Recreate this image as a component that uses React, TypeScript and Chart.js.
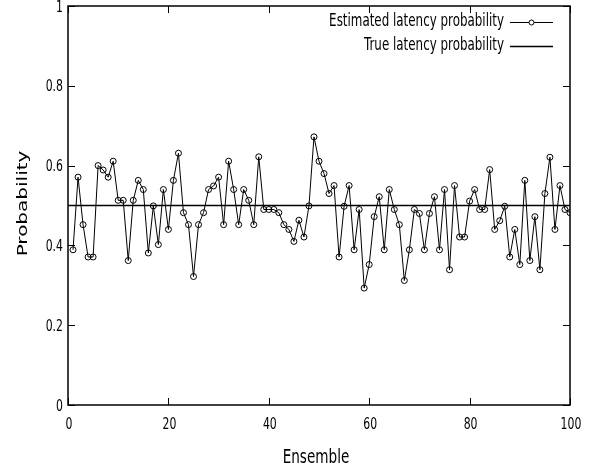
import React, { useEffect, useRef } from "react";
import { Chart, registerables } from "chart.js";

Chart.register(...registerables);

const ensembleStart = 1;
const estimatedProbability = [
  0.389, 0.571, 0.452, 0.371, 0.371, 0.6, 0.589, 0.571, 0.611, 0.513,
  0.513, 0.362, 0.513, 0.563, 0.54, 0.381, 0.499, 0.402, 0.54, 0.44,
  0.563, 0.631, 0.482, 0.452, 0.322, 0.452, 0.482, 0.54, 0.549, 0.571,
  0.452, 0.611, 0.54, 0.452, 0.54, 0.513, 0.452, 0.622, 0.49, 0.49,
  0.49, 0.482, 0.452, 0.44, 0.41, 0.463, 0.421, 0.499, 0.672, 0.611,
  0.58, 0.53, 0.55, 0.371, 0.498, 0.55, 0.389, 0.49, 0.293, 0.352,
  0.472, 0.522, 0.389, 0.54, 0.49, 0.452, 0.312, 0.389, 0.49, 0.48,
  0.389, 0.48, 0.522, 0.389, 0.54, 0.339, 0.55, 0.421, 0.421, 0.511,
  0.54, 0.49, 0.49, 0.59, 0.44, 0.462, 0.498, 0.371, 0.44, 0.352,
  0.563, 0.362, 0.472, 0.339, 0.53, 0.621, 0.44, 0.55, 0.49, 0.482,
];
const trueProbability = 0.5;
const trueRange = [0, 100];
const xTicks = [0, 20, 40, 60, 80, 100];
const yTicks = [0, 0.2, 0.4, 0.6, 0.8, 1];
const seriesLabels = ["Estimated latency probability", "True latency probability"];
const xTitle = "Ensemble";
const yTitle = "Probability";

const FONT = "'DejaVu Sans', 'Liberation Sans', sans-serif";
const SX = 0.68; // horizontal squeeze of the reference's lettering

function drawText(
  ctx: CanvasRenderingContext2D,
  text: string,
  x: number,
  y: number,
  size: number,
  align: CanvasTextAlign,
  baseline: CanvasTextBaseline,
  rotated = false
) {
  ctx.save();
  ctx.translate(x, y);
  ctx.scale(SX, 1);
  if (rotated) ctx.rotate(-Math.PI / 2);
  ctx.font = `${size}px ${FONT}`;
  ctx.fillStyle = "#000";
  ctx.textAlign = align;
  ctx.textBaseline = baseline;
  ctx.fillText(text, 0, 0);
  ctx.restore();
}

const fmt = (v: number) => String(Math.round(v * 10) / 10);

const framePlugin = {
  id: "frameAndLegend",
  afterDraw(chart: any) {
    const { ctx, chartArea } = chart;
    const { left, right, top, bottom } = chartArea;
    const xs = chart.scales.x;
    const ys = chart.scales.y;
    const tick = 7;
    ctx.save();
    ctx.strokeStyle = "#000";
    ctx.lineWidth = 1.5;
    ctx.strokeRect(left, top, right - left, bottom - top);
    ctx.lineWidth = 1;
    ctx.beginPath();
    xs.ticks.forEach((t: any) => {
      const px = Math.round(xs.getPixelForValue(t.value)) + 0.5;
      ctx.moveTo(px, bottom);
      ctx.lineTo(px, bottom - tick);
      ctx.moveTo(px, top);
      ctx.lineTo(px, top + tick);
    });
    ys.ticks.forEach((t: any) => {
      const py = Math.round(ys.getPixelForValue(t.value)) + 0.5;
      ctx.moveTo(left, py);
      ctx.lineTo(left + tick, py);
      ctx.moveTo(right, py);
      ctx.lineTo(right - tick, py);
    });
    ctx.stroke();
    ctx.restore();

    // tick labels
    xs.ticks.forEach((t: any) => {
      drawText(ctx, fmt(t.value), xs.getPixelForValue(t.value) + 1, bottom + 20, 16, "center", "middle");
    });
    ys.ticks.forEach((t: any) => {
      drawText(ctx, fmt(t.value), left - 5, ys.getPixelForValue(t.value) + 1.5, 16, "right", "middle");
    });

    // axis titles
    drawText(ctx, xTitle, (left + right) / 2 - 3, 463, 20, "center", "alphabetic");
    drawText(ctx, yTitle, 27, (top + bottom) / 2 - 2, 20, "center", "alphabetic", true);

    // legend
    const textRight = 504;
    const lineX0 = 510;
    const lineX1 = 553;
    const rows = [22.5, 46.5];
    ctx.save();
    ctx.strokeStyle = "#000";
    chart.data.datasets.forEach((ds: any, i: number) => {
      const y = rows[i];
      drawText(ctx, ds.label, textRight, y + 3.5, 17.5, "right", "alphabetic");
      ctx.lineWidth = ds.borderWidth;
      ctx.beginPath();
      ctx.moveTo(lineX0, y);
      ctx.lineTo(lineX1, y);
      ctx.stroke();
      if (ds.pointRadius > 0) {
        ctx.lineWidth = 1;
        ctx.beginPath();
        ctx.fillStyle = "#fff";
        ctx.arc((lineX0 + lineX1) / 2, y, 2.5, 0, Math.PI * 2);
        ctx.fill();
        ctx.stroke();
      }
    });
    ctx.restore();
  },
};

export default function App() {
  const ref = useRef<HTMLCanvasElement | null>(null);

  useEffect(() => {
    if (!ref.current) return;
    const estimatedPoints = estimatedProbability.map((v, i) => ({ x: ensembleStart + i, y: v }));
    const truePoints = trueRange.map((x) => ({ x, y: trueProbability }));
    const chart = new Chart(ref.current, {
      type: "line",
      data: {
        datasets: [
          {
            label: seriesLabels[0],
            data: estimatedPoints,
            borderColor: "#000",
            borderWidth: 1,
            pointRadius: 3,
            pointBorderWidth: 1,
            pointBorderColor: "#000",
            pointBackgroundColor: "rgba(0,0,0,0)",
            tension: 0,
          },
          {
            label: seriesLabels[1],
            data: truePoints,
            borderColor: "#000",
            borderWidth: 1.5,
            pointRadius: 0,
            tension: 0,
          },
        ],
      },
      options: {
        animation: false,
        responsive: false,
        maintainAspectRatio: false,
        layout: { padding: { left: 0, right: 27, top: 6, bottom: 0 } },
        plugins: { legend: { display: false }, tooltip: { enabled: false } },
        scales: {
          x: {
            type: "linear",
            min: 0,
            max: 100,
            afterBuildTicks: (s: any) => {
              s.ticks = xTicks.map((v) => ({ value: v }));
            },
            afterFit: (s: any) => {
              s.height = 68;
            },
            grid: { display: false },
            border: { display: false },
            ticks: { display: false },
            title: { display: false, text: xTitle },
          },
          y: {
            type: "linear",
            min: 0,
            max: 1,
            afterBuildTicks: (s: any) => {
              s.ticks = yTicks.map((v) => ({ value: v }));
            },
            afterFit: (s: any) => {
              s.width = 68;
            },
            grid: { display: false },
            border: { display: false },
            ticks: { display: false },
            title: { display: false, text: yTitle },
          },
        },
      },
      plugins: [framePlugin],
    });
    return () => chart.destroy();
  }, []);

  return (
    <div style={{ position: "fixed", left: 0, top: 0, width: 597, height: 473, background: "#fff" }}>
      <canvas ref={ref} width={597} height={473} style={{ display: "block" }} />
    </div>
  );
}
